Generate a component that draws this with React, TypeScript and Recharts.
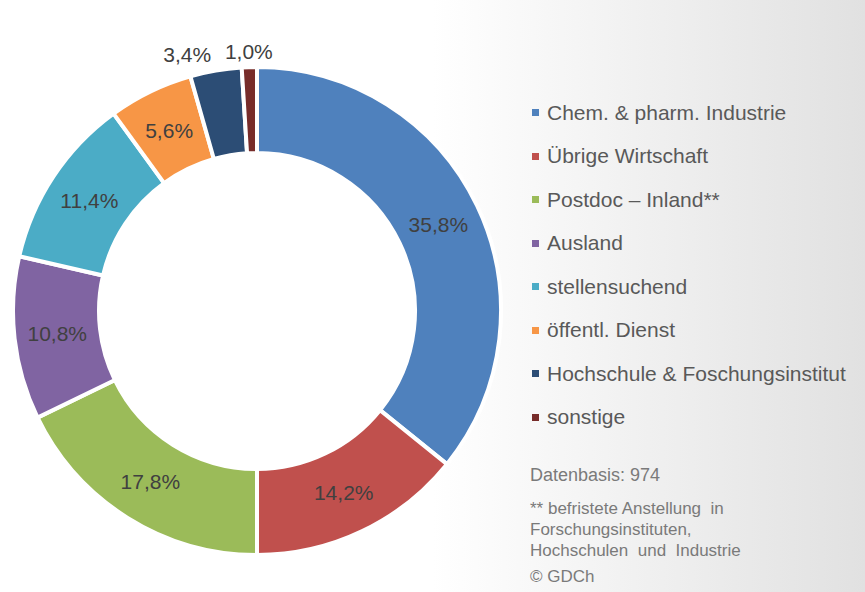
import { PieChart, Pie, Cell, Legend } from 'recharts';

const categories = [
  'Chem. & pharm. Industrie',
  'Übrige Wirtschaft',
  'Postdoc – Inland**',
  'Ausland',
  'stellensuchend',
  'öffentl. Dienst',
  'Hochschule & Foschungsinstitut',
  'sonstige',
];
const shares = [35.8, 14.2, 17.8, 10.8, 11.4, 5.6, 3.4, 1.0];
const colors = ['#4f81bd', '#c0504d', '#9bbb59', '#8064a2', '#4bacc6', '#f79646', '#2c4d75', '#772c2a'];
const footnotes = ['** befristete Anstellung  in', 'Forschungsinstituten,', 'Hochschulen  und  Industrie'];

const data = categories.map((name, i) => ({ name, value: shares[i] }));

const RAD = Math.PI / 180;
const fmt = (v: number) => v.toFixed(1).replace('.', ',') + '%';

function renderLabel(props: any) {
  const { cx, cy, midAngle, innerRadius, outerRadius, value } = props;
  const small = value < 4;
  const r = small ? outerRadius + 16 : (innerRadius + outerRadius) / 2;
  const x = cx + r * Math.cos(-midAngle * RAD);
  const y = cy + r * Math.sin(-midAngle * RAD);
  let anchor: 'middle' | 'end' = 'middle';
  if (small && x < cx - 20) anchor = 'end';
  return (
    <text
      x={small && anchor === 'end' ? x - 2 : x}
      y={y}
      fill="#404040"
      fontSize={21}
      textAnchor={anchor}
      dominantBaseline="central"
    >
      {fmt(value)}
    </text>
  );
}

function LegendList() {
  return (
    <div>
      {categories.map((c, i) => (
        <div key={c} style={{ display: 'flex', alignItems: 'center', height: 43.5 }}>
          <span style={{ width: 7, height: 7, background: colors[i], marginRight: 8, display: 'inline-block' }} />
          <span style={{ fontSize: 21, color: '#595959' }}>{c}</span>
        </div>
      ))}
    </div>
  );
}

export default function App() {
  return (
    <div
      style={{
        position: 'absolute',
        left: 0,
        top: 0,
        width: 865,
        height: 592,
        overflow: 'hidden',
        fontFamily: '"Liberation Sans", Arial, sans-serif',
        background: 'linear-gradient(to right, #ffffff 0%, #ffffff 50%, #e1e1e1 100%)',
      }}
    >
      <PieChart width={865} height={592} margin={{ top: 0, right: 0, bottom: 0, left: 0 }}>
        <Pie
          data={data}
          dataKey="value"
          nameKey="name"
          cx={257}
          cy={311}
          innerRadius={158}
          outerRadius={244}
          startAngle={90}
          endAngle={-270}
          stroke="#ffffff"
          strokeWidth={4}
          label={renderLabel}
          labelLine={false}
          isAnimationActive={false}
        >
          {data.map((d, i) => (
            <Cell key={d.name} fill={colors[i]} />
          ))}
        </Pie>
        <Legend
          content={() => <LegendList />}
          wrapperStyle={{ position: 'absolute', left: 532, top: 91, width: 333 }}
        />
      </PieChart>
      <div style={{ position: 'absolute', left: 530, top: 465, color: '#7a7a7a', fontSize: 18 }}>
        Datenbasis: 974
      </div>
      <div style={{ position: 'absolute', left: 530, top: 498, color: '#7a7a7a', fontSize: 17, lineHeight: '21px', whiteSpace: 'pre' }}>
        {footnotes.map((f) => (
          <div key={f}>{f}</div>
        ))}
      </div>
      <div style={{ position: 'absolute', left: 530, top: 567, color: '#7a7a7a', fontSize: 17 }}>
        © GDCh
      </div>
    </div>
  );
}
